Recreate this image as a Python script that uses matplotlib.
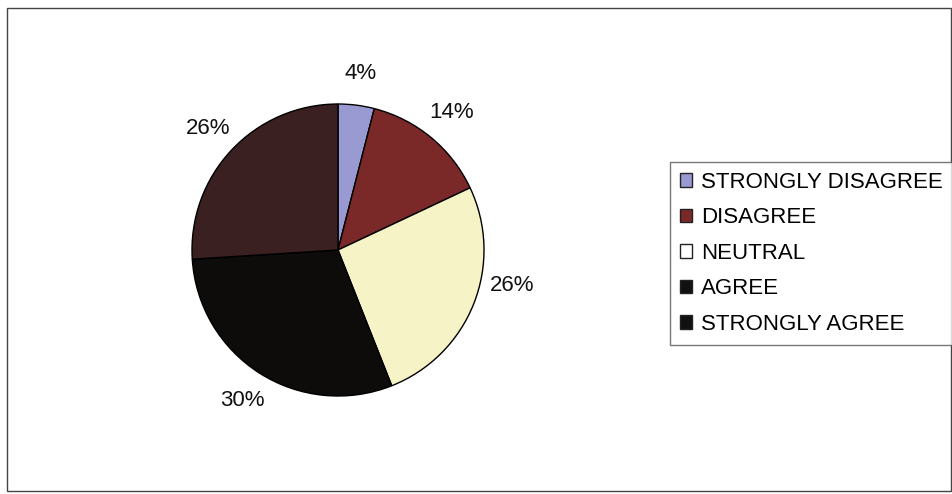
import numpy as np
import matplotlib.pyplot as plt
from matplotlib.patches import Patch, Rectangle

plt.rcParams["font.family"] = ["Liberation Sans", "DejaVu Sans"]

categorias = ["STRONGLY DISAGREE", "DISAGREE", "NEUTRAL", "AGREE", "STRONGLY AGREE"]
percentuais = [4, 14, 26, 30, 26]
cores = ["#9a9ad2", "#7a2828", "#f6f4c6", "#0e0b0b", "#3a2020"]
cores_legenda = ["#9a9ad2", "#7a2828", "#ffffff", "#111111", "#111111"]
# Excel nudges the NEUTRAL label a little upwards (degrees)
ajuste_angulo = [0, 0, 10, 0, 0]

fig = plt.figure(figsize=(9.52, 4.94), dpi=100)

# pie centre ~ (338, 250) px, radius ~146 px
cx, cy, r = 338, 250, 146
W, H = 952, 494
ax = fig.add_axes([(cx - r) / W, (H - cy - r) / H, 2 * r / W, 2 * r / H])

wedges, _, textos = ax.pie(
    percentuais,
    colors=cores,
    startangle=90,
    counterclock=False,
    autopct="%d%%",
    pctdistance=1.22,
    wedgeprops=dict(edgecolor="black", linewidth=1.0),
    textprops=dict(fontsize=16, color="#111111"),
)
for w, t, da in zip(wedges, textos, ajuste_angulo):
    ang = np.deg2rad((w.theta1 + w.theta2) / 2 + da)
    t.set_position((1.22 * np.cos(ang), 1.22 * np.sin(ang)))

ax.set_xlim(-1, 1)
ax.set_ylim(-1, 1)
ax.set_aspect("equal")
ax.axis("off")

handles = [
    Patch(facecolor=c, edgecolor="#222222", linewidth=1.0, label=n)
    for c, n in zip(cores_legenda, categorias)
]
leg = fig.legend(
    handles=handles,
    loc="upper left",
    bbox_to_anchor=(670 / W, 1 - 162 / H),
    frameon=True,
    fancybox=False,
    fontsize=16,
    handlelength=0.55,
    handleheight=0.55,
    handletextpad=0.4,
    labelspacing=0.65,
    borderpad=0.45,
    borderaxespad=0,
)
leg.get_frame().set_edgecolor("#555555")
leg.get_frame().set_linewidth(1.0)

# chart border
fig.patches.append(
    Rectangle(
        (7 / W, 3 / H),
        (951 - 7) / W,
        (491 - 8) / H,
        transform=fig.transFigure,
        fill=False,
        edgecolor="#444444",
        linewidth=1.0,
    )
)

fig.savefig("out.png", dpi=100)
